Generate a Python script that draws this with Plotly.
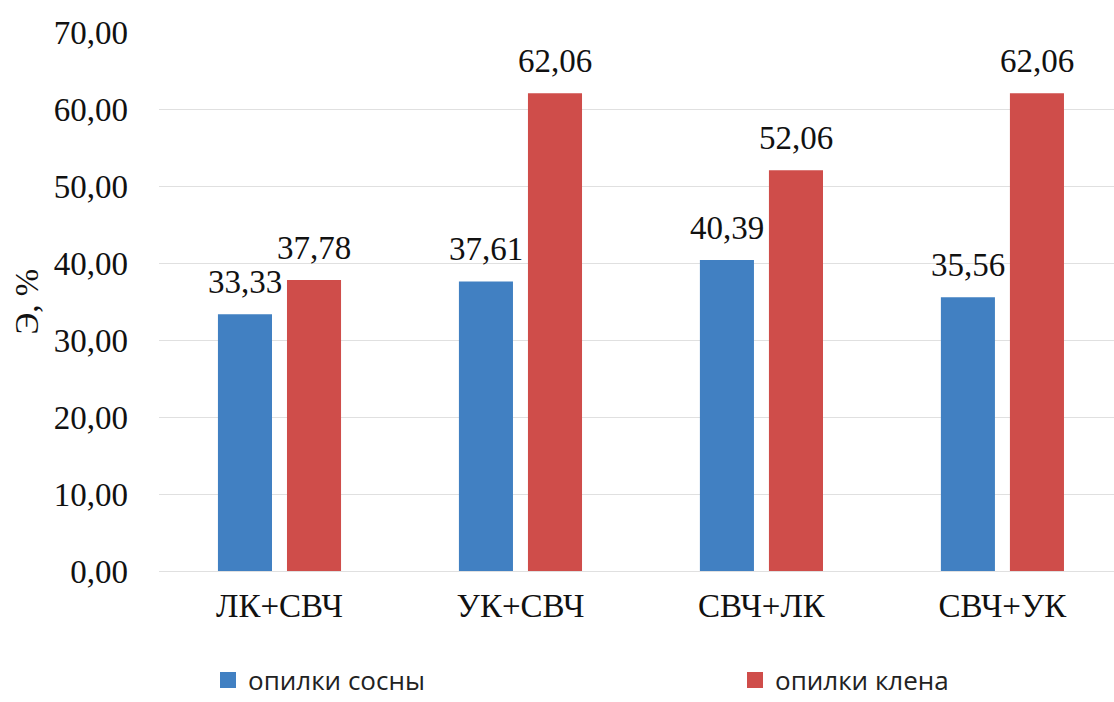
import plotly.graph_objects as go

categories = ["ЛК+СВЧ", "УК+СВЧ", "СВЧ+ЛК", "СВЧ+УК"]
pine = [33.33, 37.61, 40.39, 35.56]
maple = [37.78, 62.06, 52.06, 62.06]
series_names = ["опилки сосны", "опилки клена"]
y_title = "Э, %"
y_ticks = [0, 10, 20, 30, 40, 50, 60, 70]
y_ticklabels = ["0,00", "10,00", "20,00", "30,00", "40,00", "50,00", "60,00", "70,00"]

BLUE = "#4180C2"
RED = "#CF4D4A"
SERIF = "Liberation Serif"
FS = 33

def fmt(v):
    return f"{v:.2f}".replace(".", ",")

fig = go.Figure()
fig.add_trace(go.Bar(x=categories, y=pine, name=series_names[0], marker_color=BLUE,
                     marker_line_width=0, showlegend=False))
fig.add_trace(go.Bar(x=categories, y=maple, name=series_names[1], marker_color=RED,
                     marker_line_width=0, showlegend=False))
# legend entries with larger square swatches
for name, col, leg in ((series_names[0], BLUE, "legend"), (series_names[1], RED, "legend2")):
    fig.add_trace(go.Scatter(x=[None], y=[None], mode="markers", name=name, legend=leg,
                             marker=dict(symbol="square", size=22, color=col), showlegend=True))

annotations = []
for vals, shift in ((pine, -34.5), (maple, 34.5)):
    for c, v in zip(categories, vals):
        annotations.append(dict(x=c, y=v, text=fmt(v), showarrow=False, xref="x", yref="y",
                                xshift=shift, yshift=12, yanchor="bottom",
                                font=dict(family=SERIF, size=FS, color="#111")))
annotations.append(dict(text=y_title, textangle=-90, showarrow=False,
                        xref="paper", yref="paper", x=(26 - 159) / 955, y=0.5,
                        xanchor="center", yanchor="middle",
                        font=dict(family=SERIF, size=FS, color="#111")))

legfont = dict(family="Open Sans", size=26, color="#222")
LEG_Y = (702 - 680) / 702
fig.update_layout(
    width=1114, height=702,
    margin=dict(l=159, r=0, t=32, b=131, autoexpand=False),
    paper_bgcolor="white", plot_bgcolor="white",
    barmode="group", bargap=0.427, bargroupgap=0.217,
    annotations=annotations,
    showlegend=True,
    legend=dict(xref="container", yref="container", x=208/1114, xanchor="left",
                y=LEG_Y, yanchor="middle", font=legfont, bgcolor="rgba(0,0,0,0)",
                itemsizing="trace"),
    legend2=dict(xref="container", yref="container", x=735/1114, xanchor="left",
                 y=LEG_Y, yanchor="middle", font=legfont, bgcolor="rgba(0,0,0,0)",
                 itemsizing="trace"),
    xaxis=dict(range=[-0.5, 3.463], showgrid=False, showline=False, ticks="",
               tickfont=dict(family=SERIF, size=FS, color="#111"), ticklabelstandoff=12),
    yaxis=dict(range=[0, 70], tickvals=y_ticks, ticktext=y_ticklabels,
               showgrid=True, gridcolor="#e0e0e0", gridwidth=1,
               zeroline=True, zerolinecolor="#e0e0e0", zerolinewidth=1,
               showline=False, ticks="",
               tickfont=dict(family=SERIF, size=FS, color="#111"), ticklabelstandoff=30),
)

fig.write_html("out.html")
